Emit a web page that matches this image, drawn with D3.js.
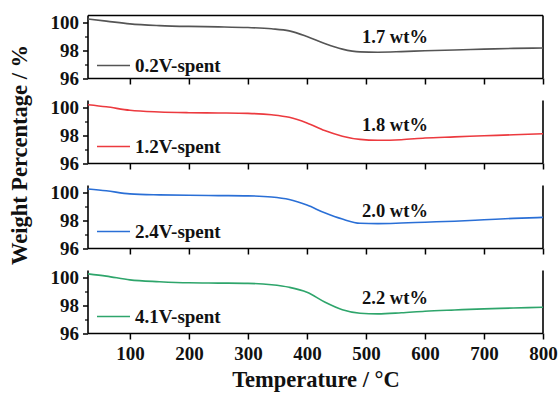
<!DOCTYPE html>
<html>
<head>
<meta charset="utf-8">
<script src="https://cdn.jsdelivr.net/npm/d3@7"></script>
<style>
  body { margin: 0; background: #fff; }
</style>
</head>
<body>
<div id="chart"></div>
<script>
// Temperatures (°C) sampled along the TGA curves
const temps = [29, 60, 100, 150, 200, 250, 300, 340, 370, 400, 430, 460, 490, 520, 560, 600, 650, 700, 750, 800];

const spent02 = [100.25, 100.1, 99.9, 99.78, 99.72, 99.69, 99.64, 99.55, 99.4, 99.0, 98.5, 98.1, 97.9, 97.88, 97.92, 97.98, 98.04, 98.1, 98.15, 98.18];
const spent12 = [100.2, 100.05, 99.8, 99.68, 99.63, 99.61, 99.58, 99.48, 99.3, 98.9, 98.35, 97.95, 97.72, 97.66, 97.7, 97.82, 97.9, 97.98, 98.05, 98.12];
const spent24 = [100.25, 100.12, 99.9, 99.83, 99.8, 99.78, 99.76, 99.68, 99.5, 99.1, 98.55, 98.1, 97.8, 97.78, 97.82, 97.88, 97.95, 98.05, 98.15, 98.22];
const spent41 = [100.26, 100.1, 99.83, 99.7, 99.62, 99.6, 99.58, 99.48, 99.3, 98.95, 98.25, 97.7, 97.45, 97.4, 97.48, 97.59, 97.68, 97.76, 97.82, 97.88];

const labels = ["0.2V-spent", "1.2V-spent", "2.4V-spent", "4.1V-spent"];
const lossLabels = ["1.7 wt%", "1.8 wt%", "2.0 wt%", "2.2 wt%"];
const colors = ["#555555", "#ec3a3f", "#2a6fd6", "#2ea56b"];
const seriesValues = [spent02, spent12, spent24, spent41];

const xTicks = [100, 200, 300, 400, 500, 600, 700, 800];
const yTicks = [96, 98, 100];
const yMinor = [97, 99];

const width = 560, height = 394;
const left = 88, right = 543;
const panelH = 63, firstBottom = 78.5, step = 85;
const serif = "'Liberation Serif', 'Times New Roman', Times, serif";

const svg = d3.select("#chart").append("svg")
  .attr("width", width)
  .attr("height", height);

const x = d3.scaleLinear().domain([29, 800]).range([left, right]);

function styleText(sel, size) {
  sel.attr("font-family", null)
    .style("font-family", serif)
    .style("font-weight", "bold")
    .style("font-size", size)
    .attr("fill", "#111");
}

seriesValues.forEach((vals, i) => {
  const bottom = firstBottom + i * step;
  const top = bottom - panelH;
  const y = d3.scaleLinear().domain([96, 100.5]).range([bottom, top]);
  const g = svg.append("g");
  const last = i === seriesValues.length - 1;

  // x axis
  const xa = g.append("g")
    .attr("transform", `translate(0,${bottom})`)
    .call(d3.axisBottom(x).tickValues(xTicks).tickSize(6).tickPadding(7)
      .tickFormat(last ? d3.format("d") : ""));
  xa.select(".domain").attr("stroke-width", 1.6).attr("d", `M${left},0H${right}`);
  xa.selectAll(".tick line").attr("stroke-width", 1.5);
  styleText(xa.selectAll("text"), "19px");

  // minor y ticks
  g.append("g")
    .attr("transform", `translate(${left},0)`)
    .call(d3.axisLeft(y).tickValues(yMinor).tickSize(3).tickFormat(""))
    .call(s => s.select(".domain").remove())
    .selectAll("line").attr("stroke-width", 1.2);

  // y axis
  const ya = g.append("g")
    .attr("transform", `translate(${left},0)`)
    .call(d3.axisLeft(y).tickValues(yTicks).tickSize(5).tickPadding(4).tickFormat(d3.format("d")));
  ya.select(".domain").attr("stroke-width", 1.6).attr("d", `M0,${bottom}V${top}`);
  ya.selectAll(".tick line").attr("stroke-width", 1.5);
  styleText(ya.selectAll("text"), "19px");

  // right border
  g.append("line")
    .attr("x1", right).attr("x2", right)
    .attr("y1", top).attr("y2", bottom)
    .attr("stroke", "#000").attr("stroke-width", 1.6);

  if (i === 0) {
    g.append("line")
      .attr("x1", left).attr("x2", right)
      .attr("y1", top).attr("y2", top)
      .attr("stroke", "#000").attr("stroke-width", 1.6);
  }

  // curve
  const line = d3.line()
    .x((d, j) => x(temps[j]))
    .y(d => y(d))
    .curve(d3.curveMonotoneX);

  g.append("path")
    .datum(vals)
    .attr("fill", "none")
    .attr("stroke", colors[i])
    .attr("stroke-width", 1.6)
    .attr("d", line);

  // legend
  const legY = i === 0 ? bottom - 13 : bottom - 17;
  g.append("line")
    .attr("x1", 97).attr("x2", 130)
    .attr("y1", legY).attr("y2", legY)
    .attr("stroke", colors[i]).attr("stroke-width", 1.6);
  g.append("text")
    .attr("x", 135)
    .attr("y", legY + 6)
    .text(labels[i])
    .call(styleText, "19px");

  // mass loss label
  g.append("text")
    .attr("x", 395)
    .attr("y", bottom - [36, 33, 32, 30][i])
    .attr("text-anchor", "middle")
    .text(lossLabels[i])
    .call(styleText, "18.5px");
});

// axis titles
svg.append("text")
  .attr("x", 316)
  .attr("y", 387)
  .attr("text-anchor", "middle")
  .text("Temperature / °C")
  .call(styleText, "22.5px");

svg.append("text")
  .attr("transform", "rotate(-90)")
  .attr("x", -155)
  .attr("y", 27)
  .attr("text-anchor", "middle")
  .text("Weight Percentage / %")
  .call(styleText, "22.5px");
</script>
</body>
</html>
